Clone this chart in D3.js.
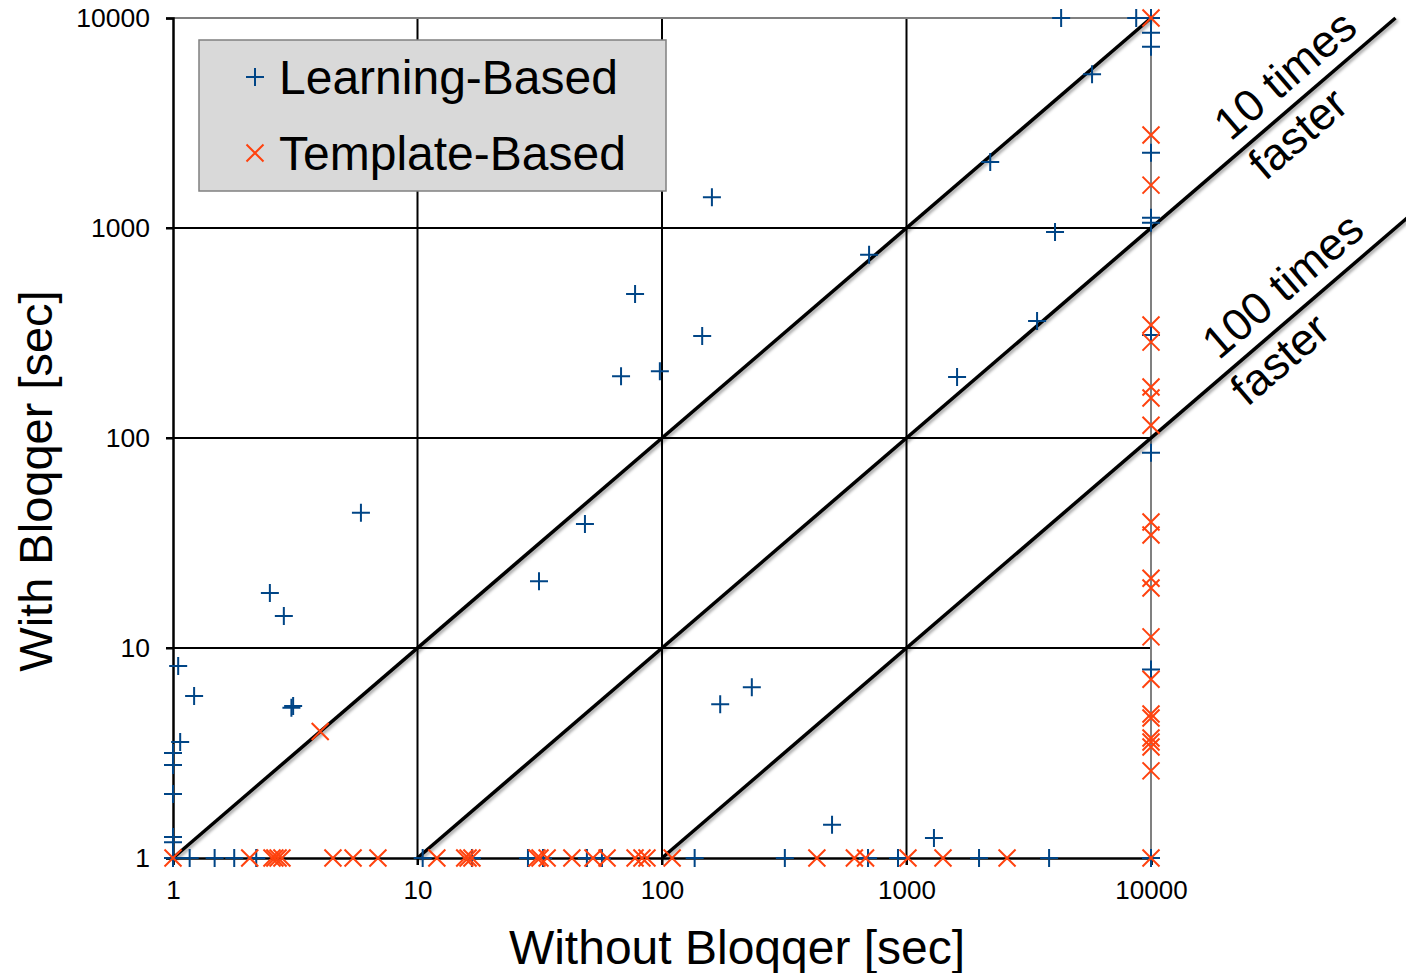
<!DOCTYPE html>
<html>
<head>
<meta charset="utf-8">
<script src="https://cdn.jsdelivr.net/npm/d3@7"></script>
<style>
  html, body { margin: 0; padding: 0; background: #fff; }
  svg { display: block; font-family: "Liberation Sans", Arial, sans-serif; }
</style>
</head>
<body>
<div id="chart"></div>
<script>
// Bloqqer runtime comparison (log-log scatter)

const tickValues = [1, 10, 100, 1000, 10000];

// Learning-Based series (blue +)
const learnX = [4290, 8700, 10000, 10000, 10000, 5740, 2200, 160, 10000, 10000, 10000,
  703, 4050, 77.6, 146, 3420, 68, 98, 1610, 10000, 10000, 10000,
  5.87, 48.4, 31.4, 2.49, 2.84, 1.05, 1.22, 3.05, 3.1, 1.07,
  1, 1, 1, 1, 1, 173, 233, 496, 1295,
  1, 1.17, 1.48, 1.78, 2.19, 10.5, 16.7, 28.3, 32.6, 49.3, 56.8, 136, 318, 696, 923, 1980, 3830, 10000];
const learnY = [10000, 10000, 10000, 8500, 7300, 5400, 2060, 1400, 2280, 1120, 1060,
  745, 957, 485, 306, 361, 197, 208, 195, 309, 85, 7.9,
  44, 38.9, 20.8, 18.3, 14.2, 8.2, 5.9, 5.2, 5.3, 3.57,
  3.16, 2.77, 2.02, 1.26, 1.19, 5.4, 6.5, 1.44, 1.245,
  1, 1, 1, 1, 1, 1, 1, 1, 1, 1, 1, 1, 1, 1, 1, 1, 1, 1];

// Template-Based series (orange x)
const templX = [10000, 10000, 10000, 10000, 10000, 10000, 10000, 10000, 10000, 10000,
  10000, 10000, 10000, 10000, 10000, 10000, 10000, 10000, 10000, 10000, 10000,
  4,
  1, 2.06, 2.54, 2.61, 2.69, 2.79, 4.51, 5.45, 6.89, 12.0, 15.6, 16.1, 16.7,
  30.8, 31.7, 33.9, 42.8, 52.2, 59.6, 77.6, 82.8, 86.8, 110, 430, 612, 680, 1014, 1410, 2578];
const templY = [10000, 2770, 1600, 345, 286, 175, 155, 115, 39.8, 34.5,
  21.5, 19.3, 11.3, 7.1, 4.85, 4.64, 3.73, 3.57, 3.38, 2.6, 1,
  4,
  1, 1, 1, 1, 1, 1, 1, 1, 1, 1, 1, 1, 1,
  1, 1, 1, 1, 1, 1, 1, 1, 1, 1, 1, 1, 1, 1, 1, 1];

// reference lines: y = x / factor
const speedups = [1, 10, 100];
// label text, line factor, x position along the line, offset from the line (px)
const speedupLabels = [
  { text: "10 times", factor: 10, at: 10 ** 4.625, off: -29 },
  { text: "faster", factor: 10, at: 10 ** 4.537, off: 24 },
  { text: "100 times", factor: 100, at: 10 ** 4.618, off: -30 },
  { text: "faster", factor: 100, at: 10 ** 4.463, off: 24 }
];

const seriesNames = ["Learning-Based", "Template-Based"];
const blue = "#004586";
const orange = "#ff420e";

const width = 1406;
const height = 973;
const margin = { top: 18, right: 255, bottom: 115, left: 173 };

const svg = d3.select("#chart")
  .append("svg")
  .attr("width", width)
  .attr("height", height)
  .attr("viewBox", [0, 0, width, height]);

const x = d3.scaleLog()
  .domain([1, 10000])
  .range([margin.left, width - margin.right]);

const y = d3.scaleLog()
  .domain([1, 10000])
  .range([height - margin.bottom, margin.top]);

const x0 = x.range()[0], x1 = x.range()[1];
const y0 = y.range()[0], y1 = y.range()[1];

// shadow for the diagonal lines
const defs = svg.append("defs");
defs.append("filter")
  .attr("id", "shadow")
  .attr("x", "-10%").attr("y", "-10%")
  .attr("width", "130%").attr("height", "130%")
  .append("feDropShadow")
  .attr("dx", 2).attr("dy", 2)
  .attr("stdDeviation", 1.5)
  .attr("flood-color", "#000")
  .attr("flood-opacity", 0.35);

// grid lines (inner decades)
const inner = tickValues.slice(1, -1);
svg.append("g")
  .selectAll("line")
  .data(inner)
  .join("line")
  .attr("x1", d => x(d)).attr("x2", d => x(d))
  .attr("y1", y1).attr("y2", y0 + 7)
  .attr("stroke", "#000").attr("stroke-width", 2);

svg.append("g")
  .selectAll("line")
  .data(inner)
  .join("line")
  .attr("x1", x0 - 7).attr("x2", x1)
  .attr("y1", d => y(d)).attr("y2", d => y(d))
  .attr("stroke", "#000").attr("stroke-width", 2);

// plot border (top / right) in grey
svg.append("path")
  .attr("d", `M${x0},${y1}H${x1}V${y0}`)
  .attr("fill", "none")
  .attr("stroke", "#808080")
  .attr("stroke-width", 2);

// axes
const fmt = d3.format("d");
svg.append("g")
  .attr("transform", `translate(0,${y0})`)
  .call(d3.axisBottom(x).tickValues(tickValues).tickFormat(fmt).tickSize(7).tickPadding(16))
  .call(g => g.select(".domain").attr("stroke-width", 2.5))
  .call(g => g.selectAll(".tick line").attr("stroke-width", 2))
  .call(g => g.selectAll(".tick text")
    .attr("font-size", 26).attr("fill", "#000")
    .attr("font-family", "Liberation Sans, Arial, sans-serif"));

svg.append("g")
  .attr("transform", `translate(${x0},0)`)
  .call(d3.axisLeft(y).tickValues(tickValues).tickFormat(fmt).tickSize(7).tickPadding(16))
  .call(g => g.select(".domain").attr("stroke-width", 2.5))
  .call(g => g.selectAll(".tick line").attr("stroke-width", 2))
  .call(g => g.selectAll(".tick text")
    .attr("font-size", 26.5).attr("fill", "#000")
    .attr("font-family", "Liberation Sans, Arial, sans-serif"));

// speedup diagonals (extend past the plot on the right)
svg.append("g")
  .selectAll("line")
  .data(speedups)
  .join("line")
  .attr("x1", d => x(d)).attr("y1", y(1))
  .attr("x2", d => x(d === 1 ? 10000 : d * 10000)).attr("y2", y(10000))
  .attr("stroke", "#000")
  .attr("stroke-width", 3.5)
  .attr("filter", "url(#shadow)");

// diagonal labels
const angle = Math.atan2(y(1) - y(10), x(10) - x(1)) * 180 / Math.PI;
const rad = angle * Math.PI / 180;
const nx = Math.sin(rad), ny = Math.cos(rad); // normal pointing down-right
svg.append("g")
  .selectAll("text")
  .data(speedupLabels)
  .join("text")
  .attr("transform", d => {
    const cx = x(d.at) + nx * d.off;
    const cy = y(d.at / d.factor) + ny * d.off;
    return `translate(${cx},${cy}) rotate(${-angle})`;
  })
  .attr("text-anchor", "middle")
  .attr("dominant-baseline", "central")
  .attr("font-size", 45)
  .attr("fill", "#000")
  .text(d => d.text);

// markers
const plusPath = "M-9,0H9M0,-9V9";
const crossPath = "M-8.5,-8.5L8.5,8.5M-8.5,8.5L8.5,-8.5";

svg.append("g")
  .selectAll("path")
  .data(learnX.map((d, i) => [d, learnY[i]]))
  .join("path")
  .attr("transform", d => `translate(${x(d[0])},${y(d[1])})`)
  .attr("d", plusPath)
  .attr("stroke", blue)
  .attr("stroke-width", 2)
  .attr("fill", "none");

svg.append("g")
  .selectAll("path")
  .data(templX.map((d, i) => [d, templY[i]]))
  .join("path")
  .attr("transform", d => `translate(${x(d[0])},${y(d[1])})`)
  .attr("d", crossPath)
  .attr("stroke", orange)
  .attr("stroke-width", 2)
  .attr("fill", "none");

// legend
const legend = svg.append("g").attr("transform", "translate(199,40)");
legend.append("rect")
  .attr("width", 467).attr("height", 151)
  .attr("fill", "#d9d9d9")
  .attr("stroke", "#808080")
  .attr("stroke-width", 1.5);

legend.selectAll("g.item")
  .data(seriesNames)
  .join("g")
  .attr("class", "item")
  .attr("transform", (d, i) => `translate(56,${37 + i * 76})`)
  .call(g => {
    g.append("path")
      .attr("d", (d, i) => i === 0 ? plusPath : crossPath)
      .attr("stroke", (d, i) => i === 0 ? blue : orange)
      .attr("stroke-width", 2)
      .attr("fill", "none");
    g.append("text")
      .attr("x", 24)
      .attr("dominant-baseline", "central")
      .attr("font-size", 48)
      .attr("fill", "#000")
      .text(d => d);
  });

// axis titles
svg.append("text")
  .attr("x", 737)
  .attr("y", 947)
  .attr("text-anchor", "middle")
  .attr("dominant-baseline", "central")
  .attr("font-size", 48)
  .attr("fill", "#000")
  .text("Without Bloqqer [sec]");

svg.append("text")
  .attr("transform", `translate(35,481) rotate(-90)`)
  .attr("text-anchor", "middle")
  .attr("dominant-baseline", "central")
  .attr("font-size", 47)
  .attr("fill", "#000")
  .text("With Bloqqer [sec]");
</script>
</body>
</html>
